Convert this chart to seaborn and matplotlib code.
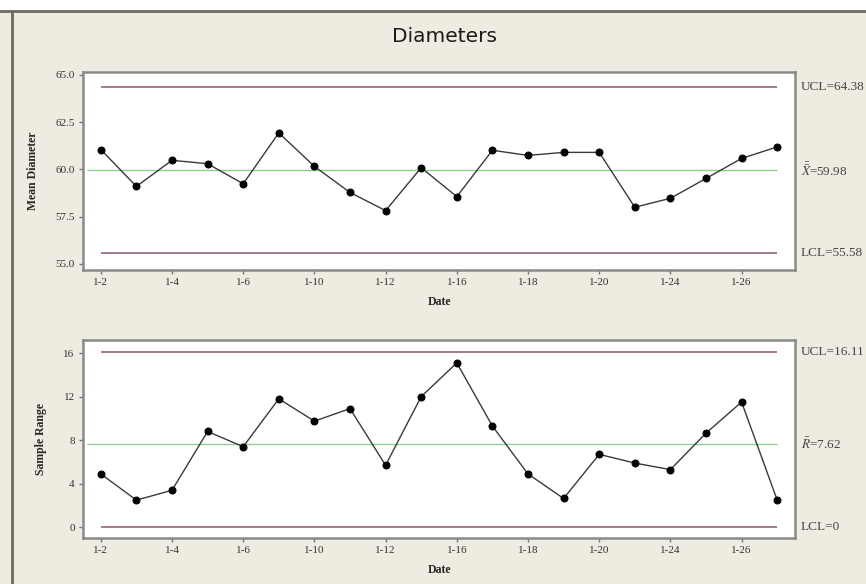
import matplotlib
matplotlib.use("Agg")
import matplotlib.pyplot as plt
import matplotlib.transforms as mtransforms
from matplotlib.patches import Rectangle
from matplotlib.lines import Line2D
import seaborn as sns
import pandas as pd

# sample dates (weekdays in January)
dates = ["1-2", "1-3", "1-4", "1-5", "1-6", "1-9", "1-10", "1-11", "1-12", "1-13",
         "1-16", "1-17", "1-18", "1-19", "1-20", "1-23", "1-24", "1-25", "1-26", "1-27"]
mean_diam = [61.05, 59.10, 60.48, 60.30, 59.24, 61.93, 60.16, 58.78, 57.82, 60.09,
             58.56, 61.01, 60.74, 60.90, 60.90, 58.00, 58.47, 59.52, 60.58, 61.19]
sample_range = [4.9, 2.5, 3.4, 8.8, 7.4, 11.8, 9.75, 10.9, 5.7, 12.0,
                15.1, 9.3, 4.9, 2.65, 6.7, 5.9, 5.3, 8.65, 11.5, 2.5]

xbar_limits = {"UCL": 64.38, "CL": 59.98, "LCL": 55.58}
r_limits = {"UCL": 16.11, "CL": 7.62, "LCL": 0.0}
xbar_labels = ["UCL=64.38", r"$\bar{\bar{X}}$=59.98", "LCL=55.58"]
r_labels = ["UCL=16.11", r"$\bar{R}$=7.62", "LCL=0"]

df = pd.DataFrame({"i": range(len(dates)), "date": dates,
                   "mean": mean_diam, "range": sample_range})

sns.set_style("white")
plt.rcParams["font.family"] = ["Liberation Serif", "DejaVu Serif"]
plt.rcParams["mathtext.fontset"] = "stix"

bg = "#eeebe1"
limit_col = "#9b6f7d"
center_col = "#8fd08f"
serif = ["Liberation Serif", "DejaVu Serif"]

fig = plt.figure(figsize=(8.66, 5.84), dpi=100, facecolor=bg)
# window-like frame
fig.patches.append(Rectangle((0, 1 - 11 / 584), 1, 11 / 584, transform=fig.transFigure,
                             facecolor="white", edgecolor="none", zorder=0))
fig.lines.append(Line2D([0, 1], [1 - 11 / 584, 1 - 11 / 584], transform=fig.transFigure,
                        color="#6e6a60", lw=2))
fig.lines.append(Line2D([12 / 866, 12 / 866], [0, 1 - 11 / 584], transform=fig.transFigure,
                        color="#6e6a60", lw=2))

ax1 = fig.add_axes([83 / 866, 1 - 270 / 584, 712 / 866, 198 / 584])
ax2 = fig.add_axes([83 / 866, 1 - 538 / 584, 712 / 866, 198 / 584])

panels = [
    (ax1, "mean", "Mean Diameter", xbar_limits, xbar_labels, (54.68, 65.15),
     [55.0, 57.5, 60.0, 62.5, 65.0], ["55.0", "57.5", "60.0", "62.5", "65.0"]),
    (ax2, "range", "Sample Range", r_limits, r_labels, (-0.98, 17.2),
     [0, 4, 8, 12, 16], ["0", "4", "8", "12", "16"]),
]

n = len(dates)
for ax, col, ylabel, lim, labels, ylim, yt, ytl in panels:
    ax.set_facecolor("white")
    ax.hlines([lim["UCL"], lim["LCL"]], 0, n - 1, color=limit_col, lw=1.3, zorder=1)
    ax.hlines(lim["CL"], -0.4, n - 1, color=center_col, lw=1.0, zorder=1)
    sns.lineplot(data=df, x="i", y=col, ax=ax, color="#3a3a3a", lw=1.0,
                 marker="o", markersize=5, markerfacecolor="black",
                 markeredgecolor="black", zorder=3)
    ax.set_xlim(-0.5, n - 0.5)
    ax.set_ylim(*ylim)
    ax.set_xticks(range(0, n, 2))
    ax.set_xticklabels(dates[::2], fontsize=8, color="#333333", family=serif)
    ax.set_yticks(yt)
    ax.set_yticklabels(ytl, fontsize=8, color="#333333", family=serif)
    ax.set_xlabel("Date", fontsize=8.5, fontweight="bold", labelpad=6, family=serif)
    ax.set_ylabel(ylabel, fontsize=8.5, fontweight="bold", labelpad=12, family=serif)
    ax.tick_params(axis="both", length=3, width=1, color="#777777", pad=3,
                   bottom=True, left=True)
    for s in ax.spines.values():
        s.set_color("#8a8a8a")
        s.set_linewidth(1.8)
    trans = mtransforms.blended_transform_factory(ax.transAxes, ax.transData)
    for key, txt in zip(["UCL", "CL", "LCL"], labels):
        ax.text(1.008, lim[key], txt, transform=trans, fontsize=9.5, family=serif,
                color="#444444", va="center", ha="left", clip_on=False)

fig.text(445 / 866, 1 - 36 / 584, "Diameters", fontsize=14.5, ha="center",
         va="center", color="#1a1a1a", family=["DejaVu Sans"])

fig.savefig("out.png", dpi=100, facecolor=bg)
